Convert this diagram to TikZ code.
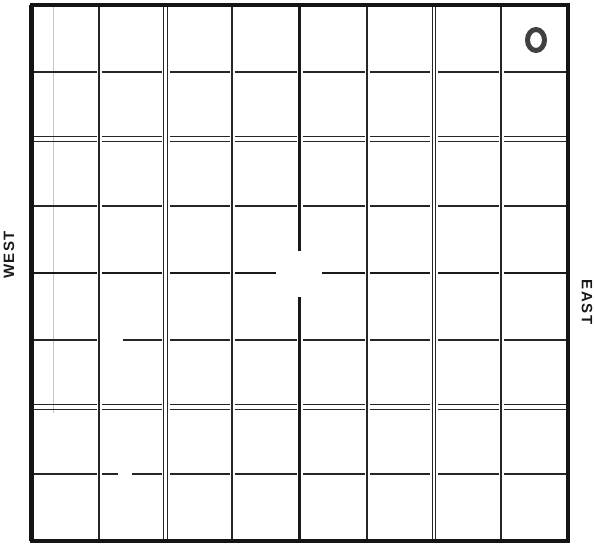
\documentclass[tikz,border=0pt]{standalone}
\usepackage{fontspec}
\newfontfamily\labelfont{Liberation Sans}[LetterSpace=10]
\newcommand\lblsize{\fontsize{15pt}{17pt}\selectfont}
\usepackage{tikz}

\begin{document}
\begin{tikzpicture}[
    x=1pt, y=-1pt,
    frame/.style={draw=black!92, line width=4pt},
    gridln/.style={draw=black!85, line width=1.8pt},
    dblln/.style={draw=black!85, line width=1.3pt},
    thickln/.style={draw=black!90, line width=2.8pt},
    faint/.style={draw=black!22, line width=0.8pt},
    ring/.style={draw=black!75, line width=5pt},
    lbl/.style={font=\labelfont\bfseries\lblsize, text=black!90, inner sep=0pt}
  ]
  \useasboundingbox (0,0) rectangle (595,544);

  \draw[faint] (53,7) -- (53,413);

  \foreach \x in {99,232,367,501}
    \draw[gridln] (\x,5) -- (\x,541);
  \foreach \x in {165.5,434} {
    \draw[dblln] (\x-1.8,5) -- (\x-1.8,541);
    \draw[dblln] (\x+1.8,5) -- (\x+1.8,541);
  }
  \draw[thickln] (299.5,5) -- (299.5,251);
  \draw[thickln] (299.5,297) -- (299.5,541);

  \foreach \y in {72,206} {
    \foreach \a/\ga/\b/\gb in {31.5/2/99/2.5, 99/2.5/165.5/4, 165.5/4/232/2.5,
        232/2.5/299.5/3, 299.5/3/367/2.5, 367/2.5/434/4,
        434/4/501/2.5, 501/2.5/567.5/2}
      \draw[gridln] (\a+\ga,\y) -- (\b-\gb,\y);
  }
  \foreach \y in {139,407} {
    \foreach \a/\ga/\b/\gb in {31.5/2/99/2.5, 99/2.5/165.5/4, 165.5/4/232/2.5,
        232/2.5/299.5/3, 299.5/3/367/2.5, 367/2.5/434/4,
        434/4/501/2.5, 501/2.5/567.5/2} {
      \draw[dblln] (\a+\ga,\y-2.7) -- (\b-\gb,\y-2.7);
      \draw[dblln] (\a+\ga,\y+2.7) -- (\b-\gb,\y+2.7);
    }
  }
  \foreach \a/\ga/\b/\gb in {31.5/2/99/2.5, 99/2.5/165.5/4, 165.5/4/232/2.5,
      367/2.5/434/4, 434/4/501/2.5, 501/2.5/567.5/2}
    \draw[thickln] (\a+\ga,273) -- (\b-\gb,273);
  \draw[thickln] (234.5,273) -- (276,273);
  \draw[thickln] (322,273) -- (364.5,273);

  \foreach \y in {340,474} {
    \foreach \a/\ga/\b/\gb in {31.5/2/99/2.5, 165.5/4/232/2.5,
        232/2.5/299.5/3, 299.5/3/367/2.5, 367/2.5/434/4,
        434/4/501/2.5, 501/2.5/567.5/2}
      \draw[gridln] (\a+\ga,\y) -- (\b-\gb,\y);
  }
  \draw[gridln] (123,340) -- (161.5,340);
  \draw[gridln] (101.5,474) -- (118,474);
  \draw[gridln] (132,474) -- (161.5,474);

  \draw[frame] (31.5,5) rectangle (567.5,541);
  \draw[frame, line width=5pt] (31.5,5) -- (31.5,541);

  \draw[ring] (536,40) ellipse [x radius=8.5, y radius=10.5];

  \node[lbl, rotate=90]  (west) at (9,255)    {WEST};
  \node[lbl, rotate=-90] (east) at (587,302) {EAST};
\end{tikzpicture}
\end{document}
